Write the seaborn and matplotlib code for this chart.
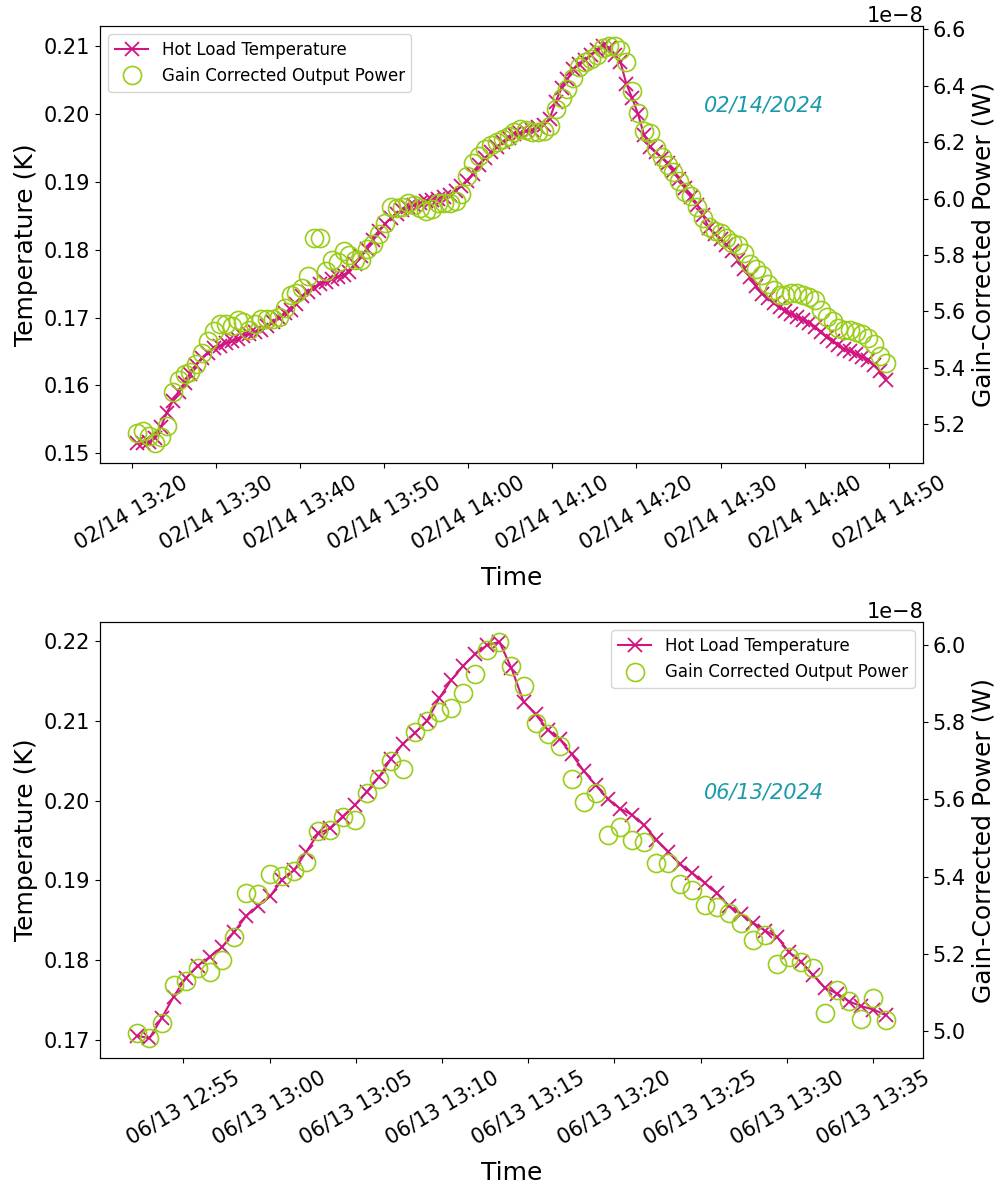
"""
Hot load temperature vs gain corrected output power, two test days.
"""

import matplotlib

matplotlib.use("Agg")

import matplotlib.dates as mdates
import matplotlib.pyplot as plt
import numpy as np
import pandas as pd
import seaborn as sns

PINK = "#d0157f"
GREEN = "#9acd1a"
TEAL = "#1b9aaa"

# --- 02/14/2024 run (samples every 42 s) ---
FEB_START = "2024-02-14 13:20:42"
FEB_TEMP = [
    0.1515, 0.1515, 0.1516, 0.1523, 0.1539, 0.1560, 0.1577, 0.1591, 0.1603, 0.1617,
    0.1630, 0.1641, 0.1648, 0.1655, 0.1658, 0.1662, 0.1665, 0.1669, 0.1673, 0.1676,
    0.1678, 0.1682, 0.1687, 0.1693, 0.1700, 0.1706, 0.1711, 0.1720, 0.1732, 0.1738,
    0.1744, 0.1749, 0.1753, 0.1757, 0.1760, 0.1763, 0.1767, 0.1779, 0.1790, 0.1801,
    0.1814, 0.1828, 0.1838, 0.1846, 0.1853, 0.1858, 0.1862, 0.1865, 0.1868, 0.1872,
    0.1873, 0.1875, 0.1878, 0.1881, 0.1887, 0.1894, 0.1901, 0.1912, 0.1925, 0.1935,
    0.1943, 0.1951, 0.1958, 0.1964, 0.1970, 0.1971, 0.1974, 0.1976, 0.1980, 0.1984,
    0.1993, 0.2018, 0.2038, 0.2051, 0.2066, 0.2073, 0.2079, 0.2087, 0.2094, 0.2100,
    0.2097, 0.2086, 0.2076, 0.2044, 0.2023, 0.1999, 0.1969, 0.1951, 0.1943, 0.1935,
    0.1927, 0.1916, 0.1904, 0.1891, 0.1878, 0.1866, 0.1851, 0.1832, 0.1823, 0.1815,
    0.1807, 0.1798, 0.1784, 0.1772, 0.1760, 0.1746, 0.1735, 0.1728, 0.1722, 0.1716,
    0.1710, 0.1705, 0.1701, 0.1697, 0.1692, 0.1686, 0.1678, 0.1671, 0.1665, 0.1659,
    0.1654, 0.1650, 0.1646, 0.1642, 0.1637, 0.1630, 0.1621, 0.1608,
]
# power in units of 1e-8 W
FEB_POWER = [
    5.168, 5.175, 5.158, 5.133, 5.154, 5.193, 5.313, 5.356, 5.377, 5.384,
    5.412, 5.451, 5.497, 5.529, 5.554, 5.554, 5.547, 5.568, 5.561, 5.533,
    5.554, 5.572, 5.575, 5.575, 5.582, 5.614, 5.657, 5.664, 5.682, 5.724,
    5.859, 5.859, 5.745, 5.781, 5.777, 5.816, 5.802, 5.784, 5.781, 5.823,
    5.841, 5.873, 5.915, 5.972, 5.968, 5.972, 5.986, 5.979, 5.968, 5.958,
    5.965, 5.983, 5.986, 5.986, 5.993, 6.018, 6.082, 6.128, 6.153, 6.177,
    6.191, 6.202, 6.213, 6.223, 6.237, 6.248, 6.245, 6.237, 6.237, 6.241,
    6.259, 6.319, 6.358, 6.390, 6.429, 6.468, 6.485, 6.496, 6.510, 6.535,
    6.542, 6.542, 6.528, 6.485, 6.383, 6.305, 6.241, 6.234, 6.181, 6.149,
    6.121, 6.096, 6.064, 6.022, 6.011, 5.972, 5.933, 5.901, 5.887, 5.880,
    5.862, 5.844, 5.834, 5.806, 5.770, 5.749, 5.728, 5.699, 5.675, 5.660,
    5.657, 5.664, 5.667, 5.657, 5.653, 5.639, 5.604, 5.579, 5.565, 5.543,
    5.536, 5.533, 5.526, 5.519, 5.505, 5.483, 5.441, 5.416,
]

# --- 06/13/2024 run ---
JUN_START = "2024-06-13 12:52:20"
JUN_TEMP = [
    0.1705, 0.1702, 0.1727, 0.1754, 0.1777, 0.1793, 0.1804, 0.1816, 0.1835, 0.1855,
    0.1868, 0.1880, 0.1901, 0.1913, 0.1936, 0.1959, 0.1965, 0.1980, 0.1994, 0.2011,
    0.2029, 0.2052, 0.2071, 0.2085, 0.2100, 0.2128, 0.2151, 0.2169, 0.2184, 0.2195,
    0.2199, 0.2166, 0.2124, 0.2108, 0.2089, 0.2077, 0.2058, 0.2037, 0.2019, 0.2002,
    0.1990, 0.1982, 0.1969, 0.1951, 0.1936, 0.1920, 0.1909, 0.1897, 0.1884, 0.1868,
    0.1858, 0.1847, 0.1837, 0.1829, 0.1810, 0.1798, 0.1781, 0.1765, 0.1758, 0.1748,
    0.1742, 0.1738, 0.1731,
]
JUN_POWER = [
    4.995, 4.982, 5.021, 5.119, 5.130, 5.165, 5.154, 5.184, 5.244, 5.358,
    5.356, 5.408, 5.403, 5.414, 5.439, 5.518, 5.521, 5.554, 5.547, 5.617,
    5.654, 5.700, 5.679, 5.775, 5.803, 5.827, 5.838, 5.875, 5.924, 5.987,
    6.008, 5.945, 5.895, 5.797, 5.769, 5.739, 5.654, 5.594, 5.617, 5.508,
    5.530, 5.494, 5.489, 5.435, 5.435, 5.380, 5.366, 5.326, 5.322, 5.306,
    5.279, 5.236, 5.249, 5.175, 5.193, 5.180, 5.163, 5.046, 5.107, 5.079,
    5.031, 5.085, 5.029,
]

SAMPLE_FREQ = "42s"


def draw_panel(ax, start, temp, power, date_label, legend_loc, text_xy, minute_step):
    times = pd.date_range(start, periods=len(temp), freq=SAMPLE_FREQ)
    ax2 = ax.twinx()

    sns.lineplot(
        x=times, y=np.array(temp), ax=ax, color=PINK, marker="x",
        markersize=10, markeredgecolor=PINK, markeredgewidth=1.3,
        linewidth=1.5, estimator=None, legend=False,
    )
    sns.lineplot(
        x=times, y=np.array(power) * 1e-8, ax=ax2, color=GREEN, marker="o",
        linestyle="", markersize=13, markerfacecolor="none",
        markeredgecolor=GREEN, markeredgewidth=1.2, estimator=None, legend=False,
    )

    ax.set_xlabel("Time", fontsize=18, labelpad=9)
    ax.set_ylabel("Temperature (K)", fontsize=18)
    ax2.set_ylabel("Gain-Corrected Power (W)", fontsize=18)

    ax.xaxis.set_major_locator(mdates.MinuteLocator(byminute=range(0, 60, minute_step)))
    ax.xaxis.set_major_formatter(mdates.DateFormatter("%m/%d %H:%M"))
    ax.tick_params(labelsize=15)
    ax.tick_params(axis="x", rotation=30)
    ax2.tick_params(labelsize=15)
    ax2.yaxis.get_offset_text().set_fontsize(15)

    ax.text(
        text_xy[0], text_xy[1], date_label, transform=ax.transAxes,
        ha="center", va="center", fontsize=15, style="italic", color=TEAL,
    )

    handles = [ax.get_lines()[0], ax2.get_lines()[0]]
    labels = ["Hot Load Temperature", "Gain Corrected Output Power"]
    ax2.legend(handles, labels, loc=legend_loc, fontsize=12)


def main() -> None:
    fig = plt.figure(figsize=(9.98, 11.86), dpi=100)
    ax_top = fig.add_axes([0.1002, 0.6096, 0.8246, 0.3685])
    ax_bot = fig.add_axes([0.1002, 0.1079, 0.8246, 0.3676])

    draw_panel(ax_top, FEB_START, FEB_TEMP, FEB_POWER, "02/14/2024",
               "upper left", (0.807, 0.819), 10)
    draw_panel(ax_bot, JUN_START, JUN_TEMP, JUN_POWER, "06/13/2024",
               "upper right", (0.807, 0.608), 5)

    fig.savefig("out.png", dpi=100)
    plt.close(fig)


if __name__ == "__main__":
    main()
